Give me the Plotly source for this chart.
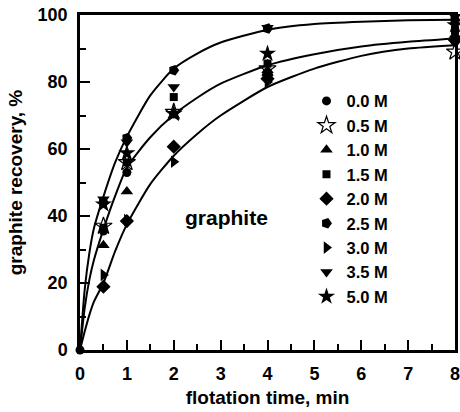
import plotly.graph_objects as go

# ---- data ----
times = [0.5, 1, 2, 4, 8]
series_labels = ["0.0 M", "0.5 M", "1.0 M", "1.5 M", "2.0 M", "2.5 M", "3.0 M", "3.5 M", "5.0 M"]

rec_00 = [35.5, 53.0, 70.5, 82.5, 92.0]
rec_05 = [37.0, 56.0, 71.0, 84.0, 89.0]
rec_10 = [31.3, 47.3, 70.0, 83.5, 94.0]
rec_15 = [36.5, 56.0, 75.5, 85.5, 95.5]
rec_20 = [18.9, 38.5, 60.7, 81.0, 92.5]
rec_25 = [44.0, 63.3, 83.5, 96.0, 98.5]
rec_30 = [22.4, 38.8, 56.2, 80.0, 93.5]
rec_35 = [45.0, 62.0, 78.5, 96.2, 99.5]
rec_50 = [43.5, 58.8, 70.5, 88.5, 97.0]

# fitted curves
curve_t = [0, 0.1, 0.2, 0.3, 0.5, 0.75, 1, 1.5, 2, 2.5, 3, 4, 5, 6, 7, 8]
curve_top = [0, 18, 29, 36.5, 45.8, 56, 63.7, 76, 84, 88.5, 91.8, 95.6, 97.3, 98.0, 98.4, 98.6]
curve_mid = [0, 12.5, 21, 27, 36, 46, 54.5, 63.5, 70.2, 75.3, 79.5, 85, 88.3, 90.6, 92, 93]
curve_bot = [0, 5.5, 10.5, 14.5, 20, 29.5, 37.5, 49.5, 58, 64.5, 70, 78.5, 84, 87.8, 90, 91]

x_ticks = [0, 1, 2, 3, 4, 5, 6, 7, 8]
y_ticks = [0, 20, 40, 60, 80, 100]

FONT = "Liberation Sans, Arial, sans-serif"

fig = go.Figure()

for cy in (curve_top, curve_mid, curve_bot):
    fig.add_trace(go.Scatter(x=curve_t, y=cy, mode="lines", line=dict(color="black", width=2, shape="spline", smoothing=0.6),
                             showlegend=False, hoverinfo="skip"))

series = [rec_00, rec_05, rec_10, rec_15, rec_20, rec_25, rec_30, rec_35, rec_50]
symbols = ["circle", "star-open", "triangle-up", "square", "diamond", "pentagon", "triangle-right", "triangle-down", "star"]
sizes = [9, 13, 11, 8, 11, 11, 11, 11, 13]
angles = [0, 0, 0, 0, 0, 90, 0, 0, 0]

for lab, vals, sym, sz, ang in zip(series_labels, series, symbols, sizes, angles):
    xs = list(times)
    ys = list(vals)
    if lab == "0.0 M":
        xs = [0] + xs
        ys = [0] + ys
    fig.add_trace(go.Scatter(
        x=xs, y=ys, mode="markers", name=lab, cliponaxis=False,
        marker=dict(symbol=sym, size=sz, color="black", angle=ang,
                    line=dict(color="black", width=1.2 if sym == "star-open" else 0)),
    ))

axis_common = dict(
    showline=True, linecolor="black", linewidth=2.5, mirror=True,
    showgrid=False, zeroline=False, automargin=False,
    ticks="inside", ticklen=10, tickwidth=2, tickcolor="black",
    ticklabelstandoff=6, ticklabeloverflow="allow",
    tickfont=dict(family=FONT, size=18, color="black", weight="bold"),
)

fig.update_xaxes(
    range=[0, 8], tickvals=x_ticks, ticktext=[str(v) for v in x_ticks],
    minor=dict(ticks="inside", ticklen=6, tickwidth=2, tickcolor="black", dtick=0.5, showgrid=False),
    title=dict(text="flotation time, min", font=dict(family=FONT, size=19, color="black", weight="bold"), standoff=8),
    **axis_common,
)
fig.update_yaxes(
    range=[0, 100], tickvals=y_ticks, ticktext=[str(v) for v in y_ticks],
    minor=dict(ticks="inside", ticklen=6, tickwidth=2, tickcolor="black", dtick=10, showgrid=False),
    title=dict(text="graphite recovery, %", font=dict(family=FONT, size=19, color="black", weight="bold"), standoff=10),
    **axis_common,
)

fig.add_annotation(x=3.13, y=39.7, xref="x", yref="y", text="graphite", showarrow=False,
                   font=dict(family=FONT, size=21, color="black", weight="bold"))

fig.update_layout(
    width=460, height=412,
    margin=dict(l=80, r=5, t=15, b=62),
    paper_bgcolor="white", plot_bgcolor="white",
    showlegend=True,
    legend=dict(x=0.604, y=0.795, xanchor="left", yanchor="top", bgcolor="rgba(0,0,0,0)",
                font=dict(family=FONT, size=16.5, color="black", weight="bold"),
                itemsizing="trace", tracegroupgap=0),
)

fig.write_html("out.html", config={"displayModeBar": False},
               post_script="document.body.style.margin='0';document.body.style.padding='0';")
